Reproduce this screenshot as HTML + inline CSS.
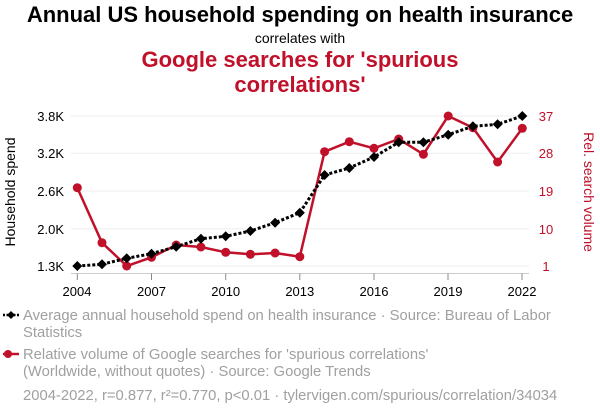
<!DOCTYPE html>
<html><head><meta charset="utf-8"><style>
body{margin:0;background:#fff;}
svg{display:block;font-family:"Liberation Sans",sans-serif;}
</style></head><body>
<svg width="600" height="414" viewBox="0 0 600 414">
<text x="300" y="22" text-anchor="middle" font-size="22" font-weight="bold" fill="#000">Annual US household spending on health insurance</text>
<text x="300" y="43" text-anchor="middle" font-size="14" fill="#000">correlates with</text>
<text x="300" y="67" text-anchor="middle" font-size="22" font-weight="bold" fill="#c0102a">Google searches for 'spurious</text>
<text x="300" y="92" text-anchor="middle" font-size="22" font-weight="bold" fill="#c0102a">correlations'</text>
<g stroke="#eee" stroke-width="1">
<line x1="71" x2="529" y1="116" y2="116"/><line x1="71" x2="529" y1="153.3" y2="153.3"/><line x1="71" x2="529" y1="191" y2="191"/><line x1="71" x2="529" y1="228.7" y2="228.7"/><line x1="71" x2="529" y1="266" y2="266"/>
</g>
<line x1="71" x2="529" y1="273.5" y2="273.5" stroke="#ccc"/>
<g stroke="#888"><line x1="77.3" x2="77.3" y1="273.5" y2="280"/><line x1="151.5" x2="151.5" y1="273.5" y2="280"/><line x1="225.7" x2="225.7" y1="273.5" y2="280"/><line x1="299.8" x2="299.8" y1="273.5" y2="280"/><line x1="374" x2="374" y1="273.5" y2="280"/><line x1="448" x2="448" y1="273.5" y2="280"/><line x1="522" x2="522" y1="273.5" y2="280"/></g>
<g font-size="13" fill="#000" text-anchor="middle">
<text x="77" y="296">2004</text><text x="151.5" y="296">2007</text><text x="225.7" y="296">2010</text><text x="299.8" y="296">2013</text><text x="374" y="296">2016</text><text x="448" y="296">2019</text><text x="522" y="296">2022</text>
</g>
<g font-size="13" fill="#000" text-anchor="end">
<text x="64" y="121">3.8K</text><text x="64" y="158">3.2K</text><text x="64" y="196">2.6K</text><text x="64" y="234">2.0K</text><text x="64" y="271">1.3K</text>
</g>
<g font-size="13" fill="#c0102a" text-anchor="middle">
<text x="546" y="121">37</text><text x="546" y="158">28</text><text x="546" y="196">19</text><text x="546" y="234">10</text><text x="546" y="271">1</text>
</g>
<text transform="translate(15,192) rotate(-90)" text-anchor="middle" font-size="14" fill="#000">Household spend</text>
<text transform="translate(584,192) rotate(90)" text-anchor="middle" font-size="14" fill="#c0102a">Rel. search volume</text>
<polyline fill="none" stroke="#c0102a" stroke-width="2.5" points="77.3,187.7 102,242.7 126.7,266 151.5,257.3 176.2,245 200.9,247 225.7,252.3 250.4,254.3 275.1,253 299.8,256.7 324.6,151.7 349.3,141.7 374,148.3 398.7,139 423.4,154.3 448.2,116 472.9,127.7 497.6,162 522.3,128.3"/>
<g fill="#c0102a">
<circle cx="77.3" cy="187.7" r="4.5"/><circle cx="102" cy="242.7" r="4.5"/><circle cx="126.7" cy="266" r="4.5"/><circle cx="151.5" cy="257.3" r="4.5"/><circle cx="176.2" cy="245" r="4.5"/><circle cx="200.9" cy="247" r="4.5"/><circle cx="225.7" cy="252.3" r="4.5"/><circle cx="250.4" cy="254.3" r="4.5"/><circle cx="275.1" cy="253" r="4.5"/><circle cx="299.8" cy="256.7" r="4.5"/><circle cx="324.6" cy="151.7" r="4.5"/><circle cx="349.3" cy="141.7" r="4.5"/><circle cx="374" cy="148.3" r="4.5"/><circle cx="398.7" cy="139" r="4.5"/><circle cx="423.4" cy="154.3" r="4.5"/><circle cx="448.2" cy="116" r="4.5"/><circle cx="472.9" cy="127.7" r="4.5"/><circle cx="497.6" cy="162" r="4.5"/><circle cx="522.3" cy="128.3" r="4.5"/>
</g>
<polyline fill="none" stroke="#000" stroke-width="3" stroke-dasharray="3,2" points="77.3,266 102,264.3 126.7,258.3 151.5,253.7 176.2,246.7 200.9,238.7 225.7,236.3 250.4,231 275.1,222.7 299.8,212.7 324.6,175 349.3,168 374,157 398.7,142.3 423.4,142.3 448.2,134.7 472.9,126.3 497.6,124.3 522.3,116"/>
<g fill="#000">
<path d="M0,-5 L5,0 L0,5 L-5,0Z" transform="translate(77.3,266)"/>
<path d="M0,-5 L5,0 L0,5 L-5,0Z" transform="translate(102,264.3)"/><path d="M0,-5 L5,0 L0,5 L-5,0Z" transform="translate(126.7,258.3)"/><path d="M0,-5 L5,0 L0,5 L-5,0Z" transform="translate(151.5,253.7)"/><path d="M0,-5 L5,0 L0,5 L-5,0Z" transform="translate(176.2,246.7)"/><path d="M0,-5 L5,0 L0,5 L-5,0Z" transform="translate(200.9,238.7)"/><path d="M0,-5 L5,0 L0,5 L-5,0Z" transform="translate(225.7,236.3)"/><path d="M0,-5 L5,0 L0,5 L-5,0Z" transform="translate(250.4,231)"/><path d="M0,-5 L5,0 L0,5 L-5,0Z" transform="translate(275.1,222.7)"/><path d="M0,-5 L5,0 L0,5 L-5,0Z" transform="translate(299.8,212.7)"/><path d="M0,-5 L5,0 L0,5 L-5,0Z" transform="translate(324.6,175)"/><path d="M0,-5 L5,0 L0,5 L-5,0Z" transform="translate(349.3,168)"/><path d="M0,-5 L5,0 L0,5 L-5,0Z" transform="translate(374,157)"/><path d="M0,-5 L5,0 L0,5 L-5,0Z" transform="translate(398.7,142.3)"/><path d="M0,-5 L5,0 L0,5 L-5,0Z" transform="translate(423.4,142.3)"/><path d="M0,-5 L5,0 L0,5 L-5,0Z" transform="translate(448.2,134.7)"/><path d="M0,-5 L5,0 L0,5 L-5,0Z" transform="translate(472.9,126.3)"/><path d="M0,-5 L5,0 L0,5 L-5,0Z" transform="translate(497.6,124.3)"/><path d="M0,-5 L5,0 L0,5 L-5,0Z" transform="translate(522.3,116)"/>
</g>
<line x1="3" x2="19" y1="315" y2="315" stroke="#000" stroke-width="2.5" stroke-dasharray="2,1.5"/>
<path d="M11,311 L15,315 L11,319 L7,315Z" fill="#000"/>
<text x="23" y="320" font-size="14.8" fill="#a0a0a0">Average annual household spend on health insurance · Source: Bureau of Labor</text>
<text x="23" y="337" font-size="14.8" fill="#a0a0a0">Statistics</text>
<line x1="3" x2="19" y1="354" y2="354" stroke="#c0102a" stroke-width="2.5"/>
<circle cx="8" cy="354" r="4" fill="#c0102a"/>
<text x="23" y="359" font-size="14.8" fill="#a0a0a0">Relative volume of Google searches for 'spurious correlations'</text>
<text x="23" y="376" font-size="14.8" fill="#a0a0a0">(Worldwide, without quotes) · Source: Google Trends</text>
<text x="23" y="400" font-size="14.8" fill="#a0a0a0">2004-2022, r=0.877, r²=0.770, p&lt;0.01 · tylervigen.com/spurious/correlation/34034</text>
</svg>
</body></html>
